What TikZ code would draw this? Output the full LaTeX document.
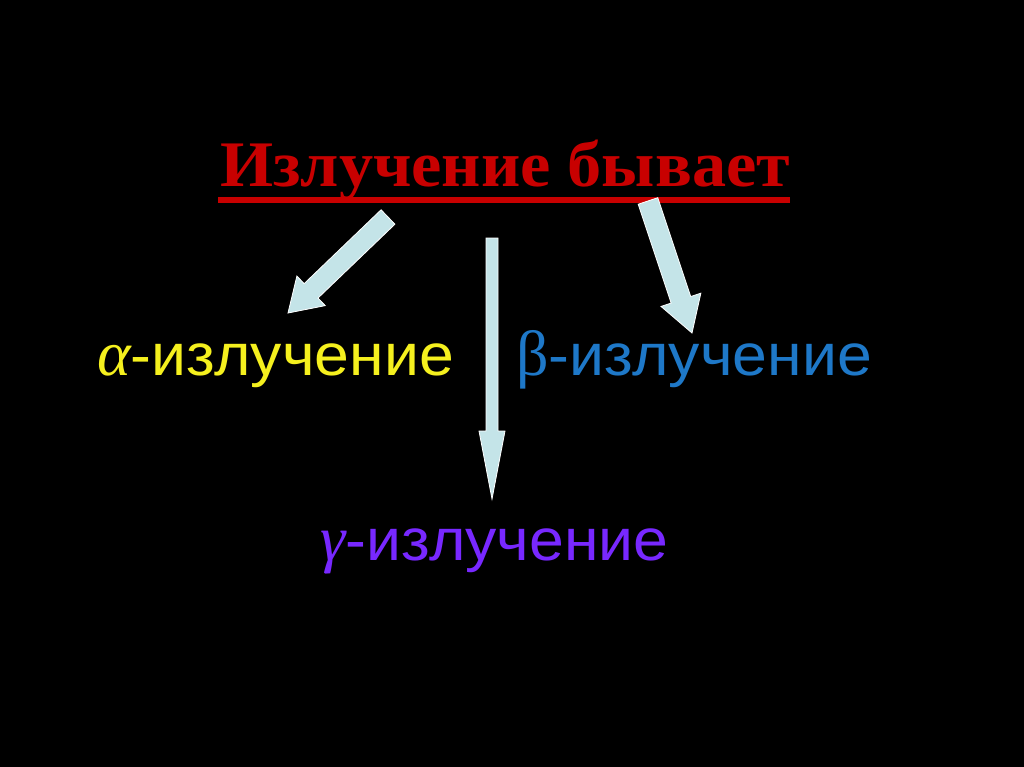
\documentclass[tikz,border=0pt]{standalone}
\usepackage{fontspec}
\setmainfont{Liberation Serif}
\newfontfamily\titlef[FakeStretch=1.05]{Liberation Serif}
\newfontfamily\sansf[FakeStretch=1.06]{Liberation Sans}
\newfontfamily\grk{Liberation Serif}
\usetikzlibrary{calc}
\definecolor{titlered}{RGB}{200,0,0}
\definecolor{alphay}{RGB}{245,240,30}
\definecolor{betab}{RGB}{30,120,200}
\definecolor{gammap}{RGB}{120,40,255}
\definecolor{arrowfill}{RGB}{196,228,232}
\newcommand\gk[1]{{\grk\fontsize{64}{64}\selectfont #1}}
\tikzset{
  barrow/.style={draw=white, fill=arrowfill, line width=0.8pt, line join=miter},
  kind/.style={inner sep=0pt, anchor=base west, font=\sansf\fontsize{59}{64}\selectfont},
  titletext/.style={inner sep=0pt, anchor=base west, text=titlered, font=\titlef\bfseries\fontsize{65}{70}\selectfont}
}
\newcommand\blockarrow[5]{%
  \coordinate (ba-h) at ($(#2)!#5!(#1)$);
  \draw[barrow] ($(#1)!#3!90:(#2)$) -- ($(ba-h)!#3!-90:(#1)$) -- ($(ba-h)!#4!-90:(#1)$)
    -- (#2) -- ($(ba-h)!#4!90:(#1)$) -- ($(ba-h)!#3!90:(#1)$) -- ($(#1)!#3!-90:(#2)$) -- cycle;
}
\begin{document}
\begin{tikzpicture}[x=1pt,y=-1pt]
\path[fill=black] (0,0) rectangle (1024,767);
\node[titletext] (title) at (220,187) {Излучение бывает};
\draw[titlered, line width=6pt] ($(title.base west)+(-2,12.7)$) -- ($(title.base east)+(0,12.7)$);
\node[kind, text=alphay] (alpha) at (97,375) {\gk{\itshape α}-излучение};
\node[kind, text=betab] (beta) at (516,375) {\gk{β}-излучение};
\node[kind, text=gammap] (gamma) at (320,560) {\gk{\itshape γ}-излучение};
\coordinate (t1) at (388,217); \coordinate (h1) at (288,313);
\coordinate (t2) at (648,201); \coordinate (h2) at (692,333);
\coordinate (t3) at (492,238); \coordinate (h3) at (492,499);
\blockarrow{t1}{h1}{10pt}{20.5pt}{32pt}
\blockarrow{t2}{h2}{10.3pt}{21pt}{35pt}
\blockarrow{t3}{h3}{6pt}{13pt}{68pt}
\end{tikzpicture}
\end{document}
